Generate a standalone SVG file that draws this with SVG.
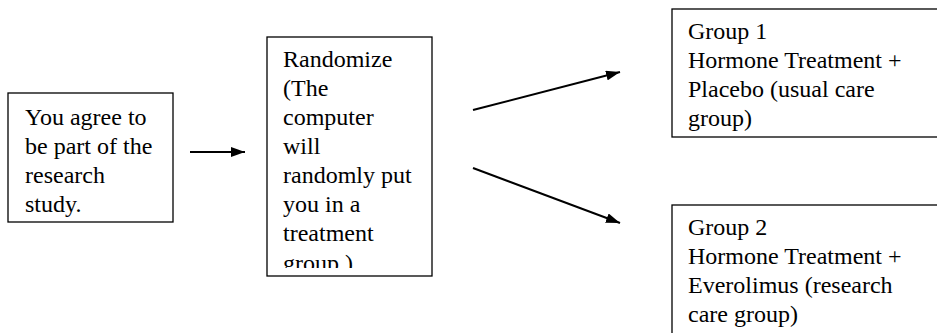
<svg xmlns="http://www.w3.org/2000/svg" width="937" height="333" viewBox="0 0 937 333">
  <style>
    .box { fill: #ffffff; stroke: #000000; stroke-width: 1.3; }
    .label { font-family: "Liberation Serif", "Times New Roman", serif; font-size: 24px; fill: #000000; }
    .link { stroke: #000000; stroke-width: 2; fill: none; marker-end: url(#head); }
  </style>
  <defs>
    <marker id="head" viewBox="0 0 14 10" refX="14" refY="5" markerWidth="14" markerHeight="10" markerUnits="userSpaceOnUse" orient="auto">
      <path d="M0,0 L14,5 L0,10 Z" fill="#000000"/>
    </marker>
    <!-- text areas stop short of the box bottoms, so the last lines are cut -->
    <clipPath id="clipConsent"><rect x="9" y="94" width="163" height="123"/></clipPath>
    <clipPath id="clipRandom"><rect x="268" y="38" width="163" height="230"/></clipPath>
  </defs>

  <rect width="937" height="333" fill="#ffffff"/>

  <g id="consent">
    <rect class="box" x="8" y="93" width="165" height="129"/>
    <g clip-path="url(#clipConsent)">
      <text class="label" x="25" y="125">You agree to</text>
      <text class="label" x="25" y="154">be part of the</text>
      <text class="label" x="25" y="183">research</text>
      <text class="label" x="25" y="212">study.</text>
    </g>
  </g>

  <g id="randomize">
    <rect class="box" x="267" y="37" width="165" height="239"/>
    <g clip-path="url(#clipRandom)">
      <text class="label" x="283" y="67">Randomize</text>
      <text class="label" x="283" y="96">(The</text>
      <text class="label" x="283" y="125">computer</text>
      <text class="label" x="283" y="154">will</text>
      <text class="label" x="283" y="183">randomly put</text>
      <text class="label" x="283" y="212">you in a</text>
      <text class="label" x="283" y="241">treatment</text>
      <text class="label" x="283" y="271">group.)</text>
    </g>
  </g>

  <g id="group1">
    <rect class="box" x="672" y="9" width="280" height="128"/>
    <text class="label" x="688" y="39">Group 1</text>
    <text class="label" x="688" y="68">Hormone Treatment +</text>
    <text class="label" x="688" y="97">Placebo (usual care</text>
    <text class="label" x="688" y="126">group)</text>
  </g>

  <g id="group2">
    <rect class="box" x="672" y="205" width="280" height="140"/>
    <text class="label" x="688" y="235">Group 2</text>
    <text class="label" x="688" y="264">Hormone Treatment +</text>
    <text class="label" x="688" y="293">Everolimus (research</text>
    <text class="label" x="688" y="322">care group)</text>
  </g>

  <g id="connectors">
    <line class="link" x1="190" y1="152" x2="245" y2="152"/>
    <line class="link" x1="473" y1="110" x2="620" y2="72"/>
    <line class="link" x1="473" y1="168" x2="620" y2="223"/>
  </g>
</svg>
